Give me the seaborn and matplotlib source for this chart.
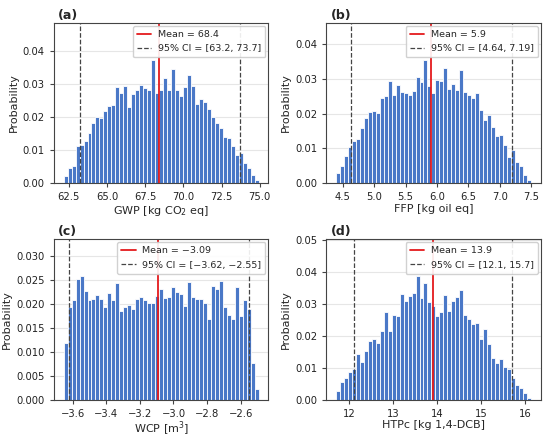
import numpy as np
import pandas as pd
import matplotlib
matplotlib.use("Agg")
import matplotlib.pyplot as plt
from matplotlib.ticker import MultipleLocator
import seaborn as sns

# histogram probabilities per bin
gwp_prob = [0.0023, 0.0046, 0.0053, 0.0113, 0.0115, 0.0128, 0.0153, 0.0183, 0.0201, 0.0196,
            0.0218, 0.0233, 0.0235, 0.0291, 0.0272, 0.0294, 0.0231, 0.0271, 0.0281, 0.0296,
            0.0288, 0.0282, 0.0373, 0.0273, 0.0283, 0.0318, 0.0283, 0.0346, 0.0283, 0.0265,
            0.0290, 0.0326, 0.0295, 0.0238, 0.0256, 0.0246, 0.0223, 0.0200, 0.0183, 0.0166,
            0.0140, 0.0136, 0.0112, 0.0086, 0.0090, 0.0060, 0.0047, 0.0026, 0.0010]
ffp_prob = [0.0030, 0.0050, 0.0078, 0.0103, 0.0120, 0.0127, 0.0160, 0.0188, 0.0204, 0.0207,
            0.0202, 0.0246, 0.0250, 0.0293, 0.0254, 0.0282, 0.0263, 0.0261, 0.0255, 0.0264,
            0.0306, 0.0290, 0.0355, 0.0279, 0.0260, 0.0297, 0.0295, 0.0331, 0.0270, 0.0286,
            0.0267, 0.0325, 0.0263, 0.0255, 0.0246, 0.0260, 0.0212, 0.0182, 0.0196, 0.0162,
            0.0136, 0.0139, 0.0110, 0.0076, 0.0095, 0.0060, 0.0048, 0.0024, 0.0010]
wcp_prob = [0.0119, 0.0193, 0.0209, 0.0252, 0.0258, 0.0227, 0.0209, 0.0211, 0.0219, 0.0211,
            0.0193, 0.0222, 0.0209, 0.0243, 0.0185, 0.0193, 0.0197, 0.0189, 0.0211, 0.0215,
            0.0208, 0.0203, 0.0203, 0.0217, 0.0232, 0.0212, 0.0214, 0.0236, 0.0226, 0.0221,
            0.0195, 0.0246, 0.0214, 0.0210, 0.0210, 0.0203, 0.0169, 0.0238, 0.0232, 0.0248,
            0.0194, 0.0176, 0.0168, 0.0235, 0.0174, 0.0208, 0.0190, 0.0077, 0.0023]
htp_prob = [0.0026, 0.0055, 0.0066, 0.0086, 0.0097, 0.0144, 0.0116, 0.0152, 0.0184, 0.0188,
            0.0178, 0.0216, 0.0274, 0.0214, 0.0264, 0.0263, 0.0330, 0.0308, 0.0324, 0.0333,
            0.0386, 0.0317, 0.0365, 0.0304, 0.0292, 0.0263, 0.0273, 0.0327, 0.0278, 0.0310,
            0.0322, 0.0344, 0.0266, 0.0252, 0.0235, 0.0240, 0.0188, 0.0220, 0.0174, 0.0130,
            0.0114, 0.0128, 0.0103, 0.0094, 0.0068, 0.0046, 0.0036, 0.0019, 0.0004]

# histogram ranges (first bin left edge, last bin right edge)
gwp_range = (62.16, 74.92)
ffp_range = (4.395, 7.492)
wcp_range = (-3.654, -2.493)
htp_range = (11.70, 16.14)

# mean and 95% CI
gwp_stats = (68.4, 63.2, 73.7)
ffp_stats = (5.9, 4.64, 7.19)
wcp_stats = (-3.09, -3.62, -2.55)
htp_stats = (13.9, 12.1, 15.7)

mean_labels = ["Mean = 68.4", "Mean = 5.9", "Mean = \u22123.09", "Mean = 13.9"]
ci_labels = ["95% CI = [63.2, 73.7]", "95% CI = [4.64, 7.19]",
             "95% CI = [\u22123.62, \u22122.55]", "95% CI = [12.1, 15.7]"]
xlabels = ["GWP [kg CO$_2$ eq]", "FFP [kg oil eq]", "WCP [m$^3$]", "HTPc [kg 1,4-DCB]"]
titles = ["(a)", "(b)", "(c)", "(d)"]
xsteps = [2.5, 0.5, 0.2, 1.0]
ysteps = [0.01, 0.01, 0.005, 0.01]

sns.set_style("ticks")
plt.rcParams["font.family"] = ["DejaVu Sans"]
plt.rcParams["axes.edgecolor"] = "#444444"
plt.rcParams["xtick.color"] = "#444444"
plt.rcParams["ytick.color"] = "#444444"
plt.rcParams["xtick.labelcolor"] = "#222222"
plt.rcParams["ytick.labelcolor"] = "#222222"

fig, axes = plt.subplots(2, 2, figsize=(5.5, 4.4), dpi=100)
fig.subplots_adjust(left=0.098, right=0.983, top=0.948, bottom=0.092, wspace=0.27, hspace=0.35)

panels = [(gwp_prob, gwp_range, gwp_stats), (ffp_prob, ffp_range, ffp_stats),
          (wcp_prob, wcp_range, wcp_stats), (htp_prob, htp_range, htp_stats)]

for i, (ax, (prob, rng, stats)) in enumerate(zip(axes.flat, panels)):
    n = len(prob)
    width = (rng[1] - rng[0]) / n
    df = pd.DataFrame({"value": rng[0] + width * (np.arange(n) + 0.5), "prob": prob})
    sns.histplot(data=df, x="value", weights="prob", bins=n, binrange=rng, ax=ax,
                 color="#4A78C7", edgecolor="white", linewidth=0.6, alpha=1)
    ax.grid(axis="y", color="#e6e6e6", linewidth=0.8)
    ax.set_axisbelow(True)
    mean, lo, hi = stats
    ax.axvline(mean, color="#e41a1c", linewidth=1.3, label=mean_labels[i])
    ax.axvline(lo, color="#444444", linestyle="--", linewidth=0.9, label=ci_labels[i])
    ax.axvline(hi, color="#444444", linestyle="--", linewidth=0.9)
    ax.set_ylim(0, max(prob) * 1.3)
    ax.xaxis.set_major_locator(MultipleLocator(xsteps[i]))
    ax.yaxis.set_major_locator(MultipleLocator(ysteps[i]))
    ax.tick_params(labelsize=7.2, length=3, width=0.8)
    ax.set_xlabel(xlabels[i], fontsize=8, labelpad=1)
    ax.set_ylabel("Probability", fontsize=8, labelpad=3)
    ax.set_title(titles[i], loc="left", fontweight="bold", fontsize=9, x=0.02, pad=3)
    ax.legend(loc="upper right", fontsize=6.8, framealpha=0.9, borderpad=0.45,
              labelspacing=0.55, handlelength=1.5, handletextpad=0.7, borderaxespad=0.3)

plt.savefig("out.png", dpi=100)
